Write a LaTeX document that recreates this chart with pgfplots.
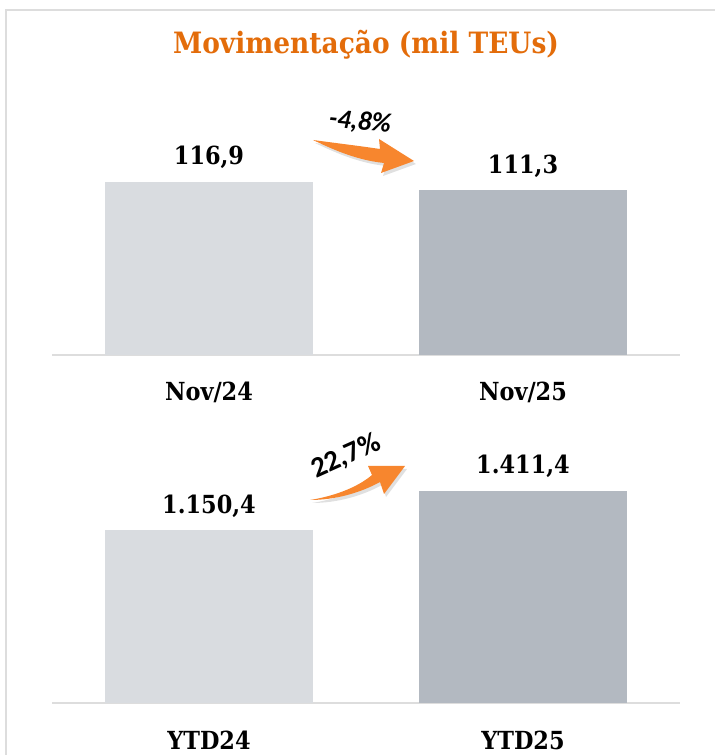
\documentclass[border=0pt]{standalone}
\usepackage{fontspec}
\setmainfont{DejaVu Serif Condensed}
\newfontfamily\pctfont{Carlito}
\usepackage{pgfplots}
\pgfplotsset{compat=1.18}
\definecolor{ttl}{HTML}{E36C0A}
\definecolor{barA}{HTML}{D9DCE0}
\definecolor{barB}{HTML}{B3B9C1}
\definecolor{arr}{HTML}{F7862E}
\definecolor{frm}{HTML}{DDDDDD}
\pgfplotsset{panel/.style={
  scale only axis, width=628bp, height=280bp,
  anchor=south west,
  xmin=-0.5, xmax=1.5, ymin=0,
  axis x line*=bottom, axis y line=none,
  x axis line style={draw=frm, line width=2bp},
  xtick={0,1}, major tick length=0pt, ytick=\empty,
  xticklabel style={font=\bfseries\fontsize{25}{28}\selectfont, anchor=base, yshift=-46bp},
  nodes near coords, point meta=explicit symbolic,
  nodes near coords style={font=\bfseries\fontsize{25}{28}\selectfont, anchor=base, yshift=17bp},
  clip=false,
}}
\begin{document}
\begin{tikzpicture}[x=1bp,y=1bp]
\path[use as bounding box] (0,0) rectangle (715,755);
\draw[frm, line width=2.5bp] (6,0) -- (6,745) -- (715,745);
\node[font=\bfseries\fontsize{29.5}{32}\selectfont, text=ttl] at (366,710) {Movimentação (mil TEUs)};

\begin{axis}[panel, at={(52bp,400bp)}, ymax=189.2, xticklabels={Nov/24, Nov/25}]
\addplot[ybar, bar width=208bp, fill=barA, draw=none] coordinates {(0,116.9) [116,9]};
\addplot[ybar, bar width=208bp, fill=barB, draw=none] coordinates {(1,111.3) [111,3]};
\end{axis}

\begin{axis}[panel, at={(52bp,52bp)}, ymax=1862, xticklabels={YTD24, YTD25}]
\addplot[ybar, bar width=208bp, fill=barA, draw=none] coordinates {(0,1150.4) [1.150,4]};
\addplot[ybar, bar width=208bp, fill=barB, draw=none] coordinates {(1,1411.4) [1.411,4]};
\end{axis}

% top arrow
\begin{scope}[shift={(2,-3)}]
\fill[black, opacity=0.12] (313,615) .. controls (335,612) and (360,609) .. (380,606) -- (379,616) -- (414,594) -- (381,582) -- (384,592) .. controls (355,595) and (330,607) .. cycle;
\end{scope}
\fill[arr] (313,615) .. controls (335,612) and (360,609) .. (380,606) -- (379,616) -- (414,594) -- (381,582) -- (384,592) .. controls (355,595) and (330,607) .. cycle;
\node[font=\pctfont\bfseries\itshape\fontsize{27}{29}\selectfont, rotate=-6] at (360,633) {-4,8\%};

% bottom arrow
\begin{scope}[shift={(2,-3)}]
\fill[black, opacity=0.12] (310,255) .. controls (335,259) and (358,268) .. (372,280) -- (368,289) -- (405,289) -- (384,261) -- (380,273) .. controls (360,262) and (335,255) .. cycle;
\end{scope}
\fill[arr] (310,255) .. controls (335,259) and (358,268) .. (372,280) -- (368,289) -- (405,289) -- (384,261) -- (380,273) .. controls (360,262) and (335,255) .. cycle;
\node[font=\pctfont\bfseries\fontsize{29}{31}\selectfont, rotate=24] at (346,299) {22,7\%};
\end{tikzpicture}
\end{document}
